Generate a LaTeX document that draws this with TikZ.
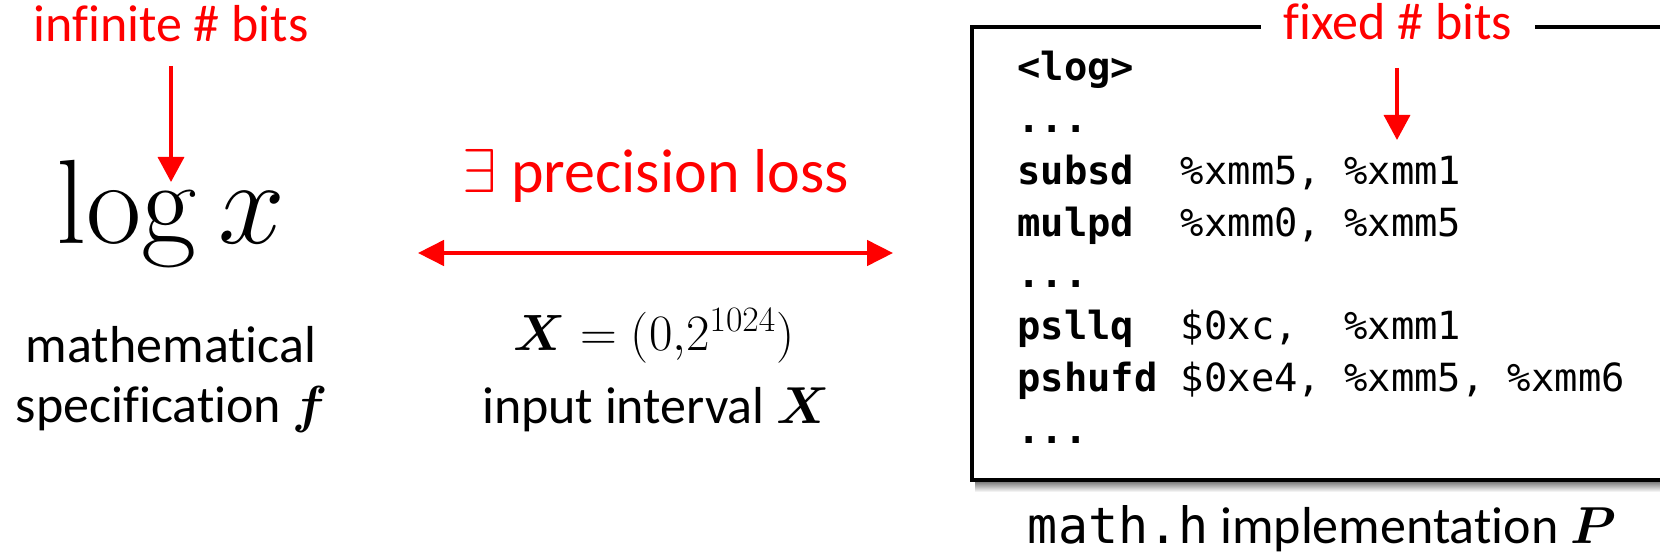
\RequirePackage{fix-cm}
\documentclass[tikz,border=0pt]{standalone}
\usepackage{amsmath,bm}
\usepackage[no-math]{fontspec}
\setmainfont{Carlito}[Ligatures=NoCommon]
\newfontfamily\codefont{DejaVu Sans Mono}
\usetikzlibrary{arrows.meta}
\definecolor{pred}{RGB}{255,0,0}
\begin{document}
\begin{tikzpicture}[x=0.5pt,y=-0.5pt,
  lbl/.style={inner sep=0pt, anchor=base, font=\fontsize{26}{30}\selectfont},
  redlbl/.style={lbl, text=pred},
  code/.style={inner sep=0pt, anchor=base west, font=\codefont\fontsize{19.4}{24}\selectfont},
  redarrow/.style={draw=pred, line width=1.75pt, -{Triangle[length=12.5pt,width=13pt]}},
  dblarrow/.style={draw=pred, line width=1.75pt, {Triangle[length=13pt,width=12.7pt]}-{Triangle[length=13pt,width=12.7pt]}}]
\useasboundingbox (0,0) rectangle (1660,556);
\clip (0,0) rectangle (1660,556);

% left part
\node[redlbl] (inf) at (171,42) {infinite \# bits};
\node[lbl, font=\fontsize{60}{64}\selectfont] (logx) at (171,243) {$\log x$};
\node[lbl] (spec1) at (171,362) {mathematical};
\node[lbl] (spec2) at (172,422) {specification $\bm{f}$};
\coordinate (a1s) at (171,66);
\coordinate (a1e) at (171,182);
\draw[redarrow] (a1s) -- (a1e);

% middle part
\node[redlbl, font=\fontsize{31}{36}\selectfont] (loss) at (656,192) {$\exists$ precision loss};
\coordinate (dl) at (418,253);
\coordinate (dr) at (893,253);
\draw[dblarrow] (dl) -- (dr);
\node[lbl, font=\fontsize{25.5}{30}\selectfont] (xint) at (654,350) {$\bm{X}=(0{,}2^{1024})$};
\node[lbl] (inint) at (656,423) {input interval $\bm{X}$};

% right part: code box
\coordinate (bxa) at (972,27);
\coordinate (bxb) at (1700,480);
\shade[top color=black!55, bottom color=white] (975,481) rectangle (1700,492);
\draw[line width=2pt, fill=white] (bxa) rectangle (bxb);
\node[redlbl, fill=white, inner xsep=11.5pt, inner ysep=3pt] (fixed) at (1398,40) {fixed \# bits};
\coordinate (a2s) at (1397,68);
\coordinate (a2e) at (1397,140);
\draw[redarrow] (a2s) -- (a2e);

\node[code] (c1) at (1017,81) {\bfseries <log>};
\node[code] (c2) at (1017,132.7) {\bfseries ...};
\node[code] (c3) at (1017,184.4) {\textbf{subsd}~~\%xmm5,~\%xmm1};
\node[code] (c4) at (1017,236) {\textbf{mulpd}~~\%xmm0,~\%xmm5};
\node[code] (c5) at (1017,287.8) {\bfseries ...};
\node[code] (c6) at (1017,339.5) {\textbf{psllq}~~\$0xc,~~\%xmm1};
\node[code] (c7) at (1017,391) {\textbf{pshufd}~\$0xe4,~\%xmm5,~\%xmm6};
\node[code] (c8) at (1017,443) {\bfseries ...};

\node[lbl] (impl) at (1322,543) {{\codefont\fontsize{25}{30}\selectfont math.h} implementation $\bm{P}$};
\end{tikzpicture}
\end{document}
